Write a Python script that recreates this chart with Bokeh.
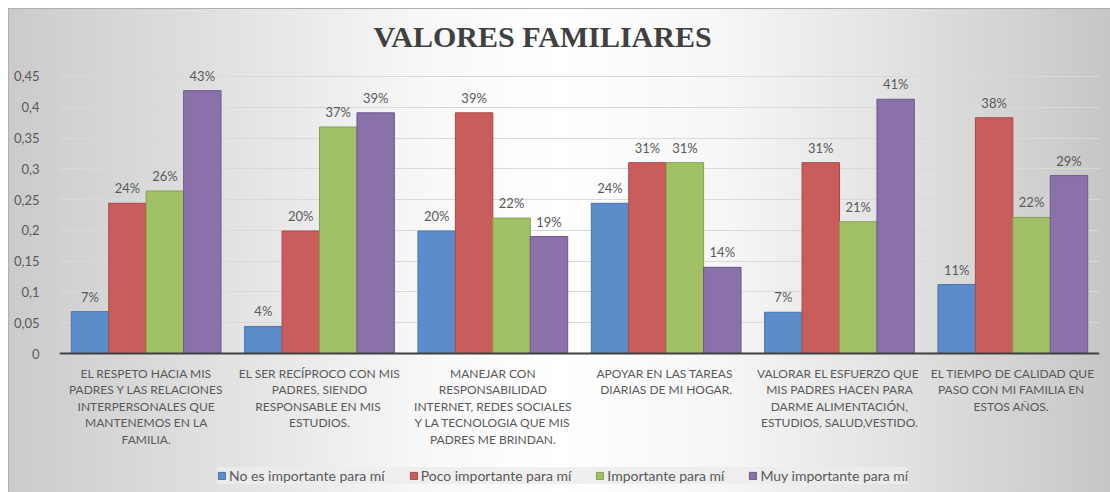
from bokeh.plotting import figure
from bokeh.models import ColumnDataSource, FixedTicker, LabelSet, Legend, LegendItem, Range1d, Span
from bokeh.core.properties import value
from bokeh.transform import dodge
from bokeh.embed import file_html
from bokeh.resources import INLINE

categories = [
    "EL RESPETO HACIA MIS\nPADRES Y LAS RELACIONES\nINTERPERSONALES QUE\nMANTENEMOS EN LA\nFAMILIA.",
    "EL SER RECÍPROCO CON MIS\nPADRES, SIENDO\nRESPONSABLE EN  MIS\nESTUDIOS.",
    "MANEJAR CON\nRESPONSABILIDAD\nINTERNET, REDES SOCIALES\nY LA TECNOLOGIA QUE MIS\nPADRES ME BRINDAN.",
    "APOYAR EN  LAS TAREAS\nDIARIAS DE MI HOGAR.",
    "VALORAR EL  ESFUERZO QUE\nMIS PADRES HACEN PARA\nDARME ALIMENTACIÓN,\nESTUDIOS, SALUD,VESTIDO.",
    "EL TIEMPO DE CALIDAD QUE\nPASO  CON MI FAMILIA EN\nESTOS  AÑOS.",
]
series_names = [
    "No es importante para mí",
    "Poco importante para mí",
    "Importante para mí",
    "Muy importante para mí",
]
no_importante = [0.068, 0.044, 0.199, 0.244, 0.067, 0.112]
poco_importante = [0.244, 0.199, 0.391, 0.310, 0.310, 0.383]
importante = [0.264, 0.368, 0.220, 0.310, 0.214, 0.221]
muy_importante = [0.427, 0.391, 0.190, 0.140, 0.413, 0.289]
y_ticks = [0, 0.05, 0.1, 0.15, 0.2, 0.25, 0.3, 0.35, 0.4, 0.45]
y_tick_labels = ["0", "0,05", "0,1", "0,15", "0,2", "0,25", "0,3", "0,35", "0,4", "0,45"]

colors = ["#5B8DCA", "#C95D5C", "#A2C065", "#8B71A9"]
edge_colors = ["#4A74A8", "#A84A48", "#86A04F", "#6F5890"]
series_values = [no_importante, poco_importante, importante, muy_importante]

font = "Lato"
text_color = "#595959"

# y range extends below zero (room for category texts) and a bit above 0.45 (room for labels)
p = figure(
    x_range=categories, y_range=Range1d(-0.2274, 0.4776),
    width=1102, height=484, output_backend="svg", toolbar_location=None,
    min_border_left=50, min_border_right=12, min_border_top=50, min_border_bottom=0,
)
p.margin = (8, 0, 0, 8)
p.styles = {
    "background-image": "linear-gradient(to right, #cbcbcb 0%, #e2e2e2 20%, #f8f8f8 38%, #ffffff 50%, #f6f6f6 65%, #e0e0e0 82%, #c6c6c6 100%)",
    "border-top": "1px solid #b0b0b0",
    "border-left": "1px solid #b0b0b0",
}
p.border_fill_alpha = 0
p.background_fill_alpha = 0
p.outline_line_color = None

p.title.text = "VALORES FAMILIARES"
p.title.align = "left"
p.title.offset = 314
p.title.standoff = 13
p.title.text_font = "Liberation Serif"
p.title.text_font_style = "bold"
p.title.text_font_size = "30px"
p.title.text_color = "#404040"

bw = 0.216
offsets = [-1.5 * bw, -0.5 * bw, 0.5 * bw, 1.5 * bw]
items = []
for name, vals, col, ecol, off in zip(series_names, series_values, colors, edge_colors, offsets):
    src = ColumnDataSource(dict(cat=categories, val=vals, lab=[f"{round(v * 100)}%" for v in vals]))
    r = p.vbar(x=dodge("cat", off, range=p.x_range), top="val", width=bw, bottom=0,
               source=src, fill_color=col, line_color=ecol, line_width=1)
    labels = LabelSet(x=dodge("cat", off, range=p.x_range), y="val", text="lab", source=src,
                      text_align="center", text_baseline="bottom", y_offset=7,
                      text_font=value(font), text_font_size="13px", text_color=text_color)
    p.add_layout(labels)
    items.append(LegendItem(label=name, renderers=[r]))

# x axis baseline at zero
p.add_layout(Span(location=0, dimension="width", line_color="#404040", line_width=2))

# category texts under the baseline
cat_src = ColumnDataSource(dict(cat=categories, y0=[0] * len(categories)))
p.text(x="cat", y="y0", text="cat", source=cat_src, y_offset=12,
       text_align="center", text_baseline="top", text_font=value(font),
       text_font_size="12px", text_color=text_color, text_line_height=1.1)

legend = Legend(items=items, orientation="horizontal", location=(158, 9),
                label_text_font=font, label_text_font_size="14px", label_text_color=text_color,
                background_fill_color="#ececec", background_fill_alpha=0.85, border_line_color=None,
                glyph_width=9, glyph_height=9, label_standoff=3, spacing=24,
                padding=9, margin=0, label_height=15)
p.add_layout(legend, "center")

p.xaxis.visible = False

p.yaxis.ticker = FixedTicker(ticks=y_ticks)
p.yaxis.major_label_overrides = {t: l for t, l in zip(y_ticks, y_tick_labels)}
p.yaxis.axis_line_color = None
p.yaxis.major_tick_line_color = None
p.yaxis.minor_tick_line_color = None
p.yaxis.major_label_standoff = 14
p.yaxis.major_label_text_font = font
p.yaxis.major_label_text_font_size = "13px"
p.yaxis.major_label_text_color = text_color

p.xgrid.grid_line_color = None
p.ygrid.grid_line_color = "#d9d9d9"
p.ygrid.grid_line_width = 1

open("out.html", "w").write(file_html(p, INLINE))
